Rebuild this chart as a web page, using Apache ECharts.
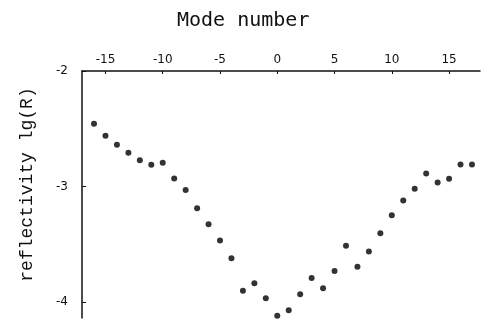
<!DOCTYPE html>
<html>
<head>
<meta charset="utf-8">
<script src="https://cdn.jsdelivr.net/npm/echarts@6/dist/echarts.min.js"></script>
<style>html,body{margin:0;padding:0;background:#fff}#c{width:493px;height:325px}</style>
</head>
<body>
<div id="c"></div>
<script>
const modes = [-16,-15,-14,-13,-12,-11,-10,-9,-8,-7,-6,-5,-4,-3,-2,-1,0,1,2,3,4,5,6,7,8,9,10,11,12,13,14,15,16,17];
const lgR = [-2.457,-2.560,-2.638,-2.709,-2.773,-2.813,-2.796,-2.931,-3.031,-3.190,-3.328,-3.468,-3.623,-3.903,-3.839,-3.968,-4.121,-4.072,-3.934,-3.793,-3.882,-3.733,-3.515,-3.696,-3.563,-3.405,-3.250,-3.123,-3.020,-2.888,-2.966,-2.934,-2.810,-2.810];
const xTicks = [-15,-10,-5,0,5,10,15];
const yTicks = [-2,-3,-4];

const chart = echarts.init(document.getElementById('c'));
chart.setOption({
  animation: false,
  title: {
    text: 'Mode number', left: 172, top: 6,
    textStyle: {fontFamily: 'DejaVu Sans Mono', fontSize: 20, fontWeight: 'normal', color: '#111'}
  },
  grid: {left: 82, right: 13, top: 71, bottom: 7},
  xAxis: {
    type: 'value', position: 'top', min: -17.05, max: 17.7,
    axisLine: {show: true, onZero: false, lineStyle: {color: '#111', width: 1.5}},
    axisTick: {show: true, inside: true, length: 3, customValues: xTicks, lineStyle: {color: '#111'}},
    axisLabel: {customValues: xTicks, margin: 5, fontFamily: 'DejaVu Sans', fontSize: 12, color: '#111'},
    splitLine: {show: false}
  },
  yAxis: {
    type: 'value', min: -4.14, max: -2,
    name: 'reflectivity lg(R)', nameLocation: 'middle', nameGap: 46,
    nameTextStyle: {fontFamily: 'Liberation Mono', fontSize: 18, color: '#111', padding: [0, 0, 0, 20]},
    axisLine: {show: true, onZero: false, lineStyle: {color: '#111', width: 1.5}},
    axisTick: {show: true, inside: true, length: 4, customValues: yTicks, lineStyle: {color: '#111'}},
    axisLabel: {customValues: yTicks, margin: 14, fontFamily: 'DejaVu Sans', fontSize: 12, color: '#111'},
    splitLine: {show: false}
  },
  series: [{
    type: 'scatter',
    data: modes.map((m, i) => [m, lgR[i]]),
    symbol: 'circle', symbolSize: 6,
    itemStyle: {color: '#000'}
  }]
});
</script>
</body>
</html>
